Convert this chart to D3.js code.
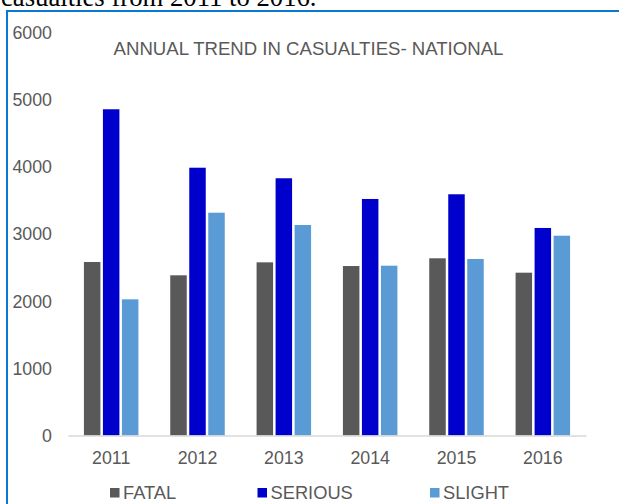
<!DOCTYPE html>
<html>
<head>
<meta charset="utf-8">
<script src="https://cdn.jsdelivr.net/npm/d3@7"></script>
<style>
  html, body { margin: 0; padding: 0; background: #fff; }
  svg { display: block; }
</style>
</head>
<body>
<script>
// Annual casualties by severity, 2011–2016
const years = ["2011", "2012", "2013", "2014", "2015", "2016"];
const seriesNames = ["FATAL", "SERIOUS", "SLIGHT"];
const fatal   = [2580, 2382, 2575, 2520, 2635, 2421];
const serious = [4851, 3982, 3825, 3517, 3587, 3086];
const slight  = [2025, 3313, 3130, 2525, 2625, 2971];
const yTicks  = [0, 1000, 2000, 3000, 4000, 5000, 6000];
const colors  = ["#595959", "#0000CC", "#5B9BD5"];

const values = { FATAL: fatal, SERIOUS: serious, SLIGHT: slight };

const W = 619, H = 504;
const svg = d3.select("body").append("svg").attr("width", W).attr("height", H);

// Paragraph text above the chart frame
svg.append("text")
  .attr("x", 1).attr("y", 6)
  .attr("font-family", "'Liberation Serif', 'Times New Roman', serif")
  .attr("font-size", 26.7)
  .attr("fill", "#000")
  .text("casualties from 2011 to 2016.");

// Chart frame (top and left edges)
svg.append("path")
  .attr("d", `M7,${H} L7,11 L${W},11`)
  .attr("fill", "none")
  .attr("stroke", "#0a78d0")
  .attr("stroke-width", 2);

const font = "'Liberation Sans', Arial, sans-serif";
const grey = "#595959";

const x0 = d3.scaleBand().domain(years).range([68, 586]).padding(0);
const groupW = 54.5;
const x1 = d3.scaleBand().domain(seriesNames).range([0, groupW]).paddingInner(0.132).paddingOuter(0);
const y = d3.scaleLinear().domain([0, 6000]).range([435.5, 32]);

// Title
svg.append("text")
  .attr("x", 308.5).attr("y", 48)
  .attr("text-anchor", "middle").attr("dominant-baseline", "central")
  .attr("font-family", font).attr("font-size", 18.6)
  .attr("fill", grey)
  .text("ANNUAL TREND IN CASUALTIES- NATIONAL");

// Y axis labels (no line, no ticks)
const yAxis = d3.axisLeft(y).tickValues(yTicks).tickSize(0).tickPadding(0).tickFormat(d3.format("d"));
const gy = svg.append("g").attr("transform", "translate(52,0)").call(yAxis);
gy.select(".domain").remove();
gy.selectAll("text")
  .attr("font-family", font).attr("font-size", 17.8).attr("fill", grey).attr("dy", "0.35em");

// Bars
const groups = svg.append("g").selectAll("g")
  .data(years)
  .join("g")
  .attr("transform", d => `translate(${x0(d) + x0.bandwidth() / 2 - groupW / 2},0)`);

groups.selectAll("rect")
  .data((d, i) => seriesNames.map((s, k) => ({ s, k, v: values[s][i] })))
  .join("rect")
  .attr("x", d => x1(d.s))
  .attr("width", x1.bandwidth())
  .attr("y", d => y(d.v))
  .attr("height", d => y(0) - y(d.v))
  .attr("fill", d => colors[d.k]);

// X axis
const xAxis = d3.axisBottom(x0).tickSize(0).tickPadding(0);
const gx = svg.append("g").attr("transform", `translate(0,${y(0)})`).call(xAxis);
gx.select(".domain").attr("stroke", "#d9d9d9").attr("stroke-width", 1.5);
gx.selectAll("text")
  .attr("font-family", font).attr("font-size", 17.8).attr("fill", grey)
  .attr("y", 22.5).attr("dy", "0.35em");

// Legend
const legendX = [110, 257.5, 430];
const lg = svg.append("g").selectAll("g")
  .data(seriesNames)
  .join("g")
  .attr("transform", (d, i) => `translate(${legendX[i]},492.5)`);
lg.append("rect")
  .attr("x", 0).attr("y", -4.5).attr("width", 9.5).attr("height", 9.5)
  .attr("fill", (d, i) => colors[i]);
lg.append("text")
  .attr("x", 13).attr("y", 0).attr("dy", "0.36em")
  .attr("font-family", font).attr("font-size", 18.3).attr("fill", grey)
  .text(d => d);
</script>
</body>
</html>
